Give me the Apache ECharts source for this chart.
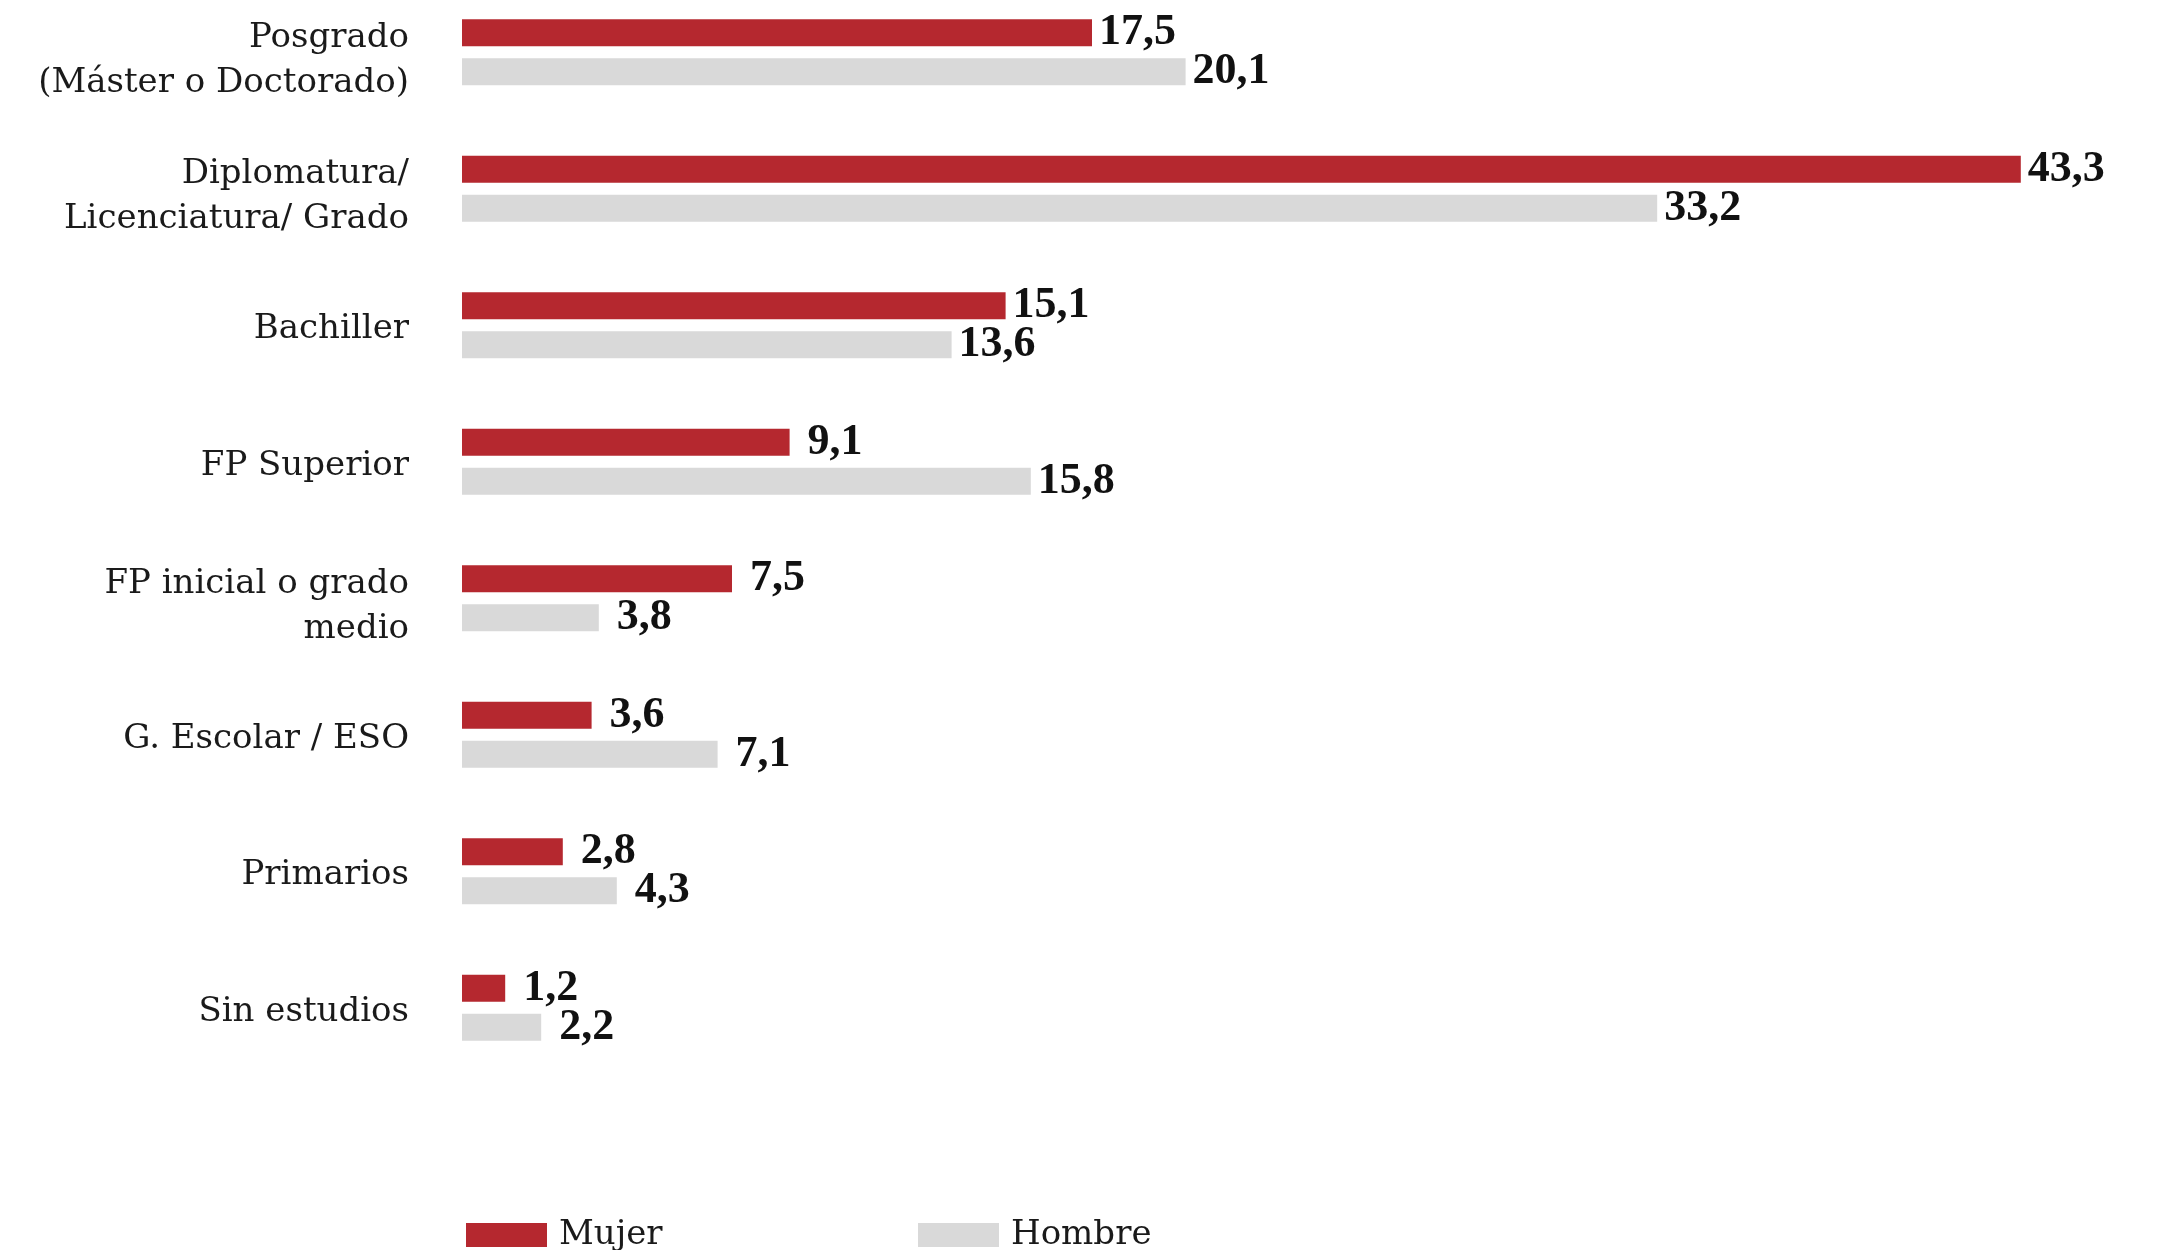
<!DOCTYPE html>
<html>
<head>
<meta charset="utf-8">
<style>
html,body{margin:0;padding:0;background:#fff;}
#chart{width:2161px;height:1250px;}
</style>
<script src="https://cdn.jsdelivr.net/npm/echarts@6/dist/echarts.min.js"></script>
</head>
<body>
<div id="chart"></div>
<script>
const categories = [
  'Posgrado\n(Máster o Doctorado)',
  'Diplomatura/\nLicenciatura/ Grado',
  'Bachiller',
  'FP Superior',
  'FP inicial o grado\nmedio',
  'G. Escolar / ESO',
  'Primarios',
  'Sin estudios'
];
const mujer  = [17.5, 43.3, 15.1, 9.1, 7.5, 3.6, 2.8, 1.2];
const hombre = [20.1, 33.2, 13.6, 15.8, 3.8, 7.1, 4.3, 2.2];
const seriesNames = ['Mujer', 'Hombre'];

const chart = echarts.init(document.getElementById('chart'));
const catFont = 'DejaVu Serif';
const valFont = 'Liberation Serif';
const fmt = p => (p.value < 10 ? ' ' : '') + p.value.toFixed(1).replace('.', ',');
const labelCfg = {
  show: true, position: 'right', distance: 7, formatter: fmt,
  fontFamily: valFont, fontWeight: 'bold', fontSize: 44, color: '#111'
};
const legendText = { fontFamily: catFont, fontSize: 34, color: '#1a1a1a', padding: [0,0,0,7] };
const catStyle = { fontFamily: catFont, fontSize: 34, color: '#1a1a1a', lineHeight: 45, align: 'right' };
chart.setOption({
  animation: false,
  backgroundColor: '#fff',
  grid: { left: 462, top: -16, width: 1620, height: 1092, containLabel: false, outerBoundsMode: 'none' },
  xAxis: {
    type: 'value', min: 0, max: 45, show: false
  },
  yAxis: {
    type: 'category', data: categories, inverse: true,
    axisLine: { show: false }, axisTick: { show: false },
    axisLabel: {
      margin: 53, align: 'right',
      formatter: v => {
        const lines = v.split('\n');
        const key = lines.length > 1 ? 'b' : 'a';
        return lines.map(l => '{' + key + '|' + l + '}').join('\n');
      },
      rich: {
        a: Object.assign({}, catStyle, { padding: [8, 0, 0, 0] }),
        b: Object.assign({}, catStyle, { padding: [16, 0, 0, 0] })
      }
    }
  },
  legend: [
    { data: [seriesNames[0]], left: 466, top: 1218, padding: 0, itemWidth: 81, itemHeight: 24,
      icon: 'rect', textStyle: legendText },
    { data: [seriesNames[1]], left: 918, top: 1218, padding: 0, itemWidth: 81, itemHeight: 24,
      icon: 'rect', textStyle: legendText }
  ],
  series: [
    { name: seriesNames[0], type: 'bar', data: mujer, barWidth: 27, barGap: '44%',
      itemStyle: { color: '#B5282F' }, label: labelCfg },
    { name: seriesNames[1], type: 'bar', data: hombre, barWidth: 27, barGap: '44%',
      itemStyle: { color: '#D9D9D9' }, label: labelCfg }
  ]
});
</script>
</body>
</html>
